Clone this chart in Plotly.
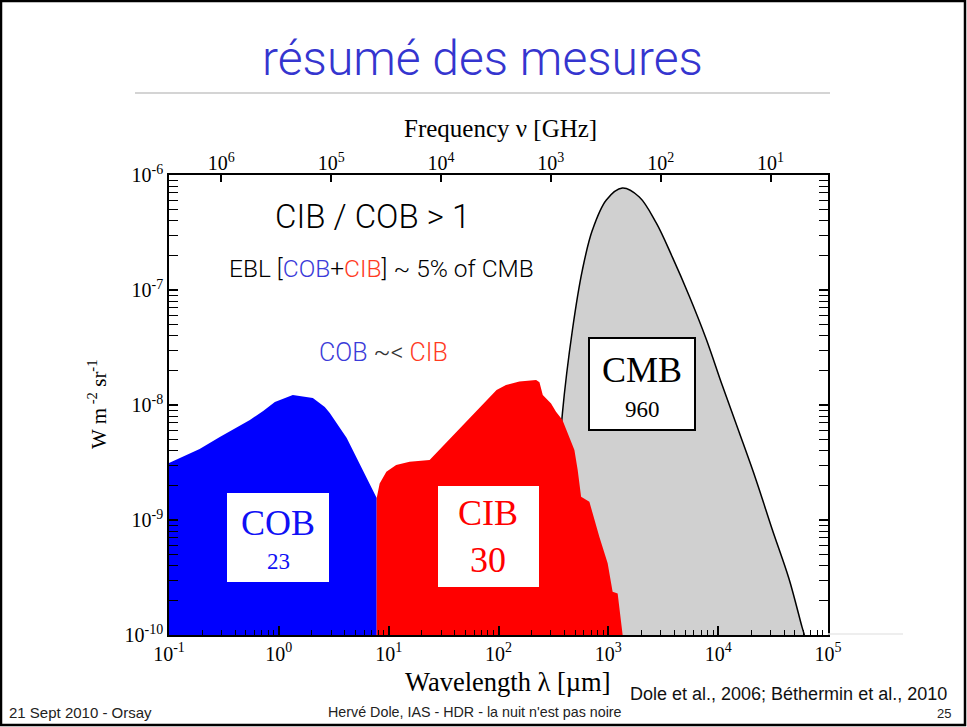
import math
import plotly.graph_objects as go

# ---- data: extragalactic background and CMB, nu*I_nu [W m^-2 sr^-1] vs wavelength [um]
cob_wavelength_um = [0.1, 0.19, 0.29, 0.545, 0.72, 0.92, 1.34, 2.04, 2.62, 2.91, 4.15, 7.78]
cob_intensity = [3.13e-9, 4.14e-9, 5.27e-9, 7.41e-9, 8.87e-9, 1.06e-8, 1.22e-8, 1.15e-8,
                 9.6e-9, 8.5e-9, 5.17e-9, 1.55e-9]

cib_wavelength_um = [7.78, 8.28, 9.53, 11.7, 15.5, 23.6, 96, 117, 155, 220, 236, 253, 301,
                     334, 382, 442, 491, 526, 565, 672, 720, 828, 986, 1094, 1216, 1350]
cib_intensity = [1.55e-9, 2.08e-9, 2.63e-9, 3.01e-9, 3.21e-9, 3.32e-9, 1.35e-8, 1.49e-8,
                 1.6e-8, 1.65e-8, 1.58e-8, 1.22e-8, 1.03e-8, 8.75e-9, 7.41e-9, 5.3e-9,
                 4.06e-9, 2.72e-9, 1.59e-9, 1.44e-9, 1.14e-9, 7.16e-10, 4.2e-10, 2.38e-10,
                 2.3e-10, 1.0e-10]

cmb_wavelength_um = [280, 382, 471, 580, 716, 959, 1340, 1914, 2730, 3820, 5450, 7780,
                     10870, 15500, 22130, 30970, 44200, 58050, 61000]
cmb_intensity = [1e-10, 8.5e-9, 4.49e-8, 1.49e-7, 3.32e-7, 6.07e-7, 7.7e-7, 6.44e-7,
                 3.83e-7, 1.94e-7, 8.87e-8, 3.75e-8, 1.49e-8, 5.82e-9, 2.23e-9, 8.35e-10,
                 3.07e-10, 1.17e-10, 1.0e-10]

# integrated brightness of each component [nW m^-2 sr^-1]
labels = ["COB", "CIB", "CMB"]
totals = [23, 30, 960]

wavelength_ticks = [0.1, 1, 10, 100, 1e3, 1e4, 1e5]
wavelength_ticktext = ["10<sup>-1</sup>", "10<sup>0</sup>", "10<sup>1</sup>", "10<sup>2</sup>",
                       "10<sup>3</sup>", "10<sup>4</sup>", "10<sup>5</sup>"]
frequency_ticks_ghz = [1e6, 1e5, 1e4, 1e3, 1e2, 1e1]
frequency_ticktext = ["10<sup>6</sup>", "10<sup>5</sup>", "10<sup>4</sup>", "10<sup>3</sup>",
                      "10<sup>2</sup>", "10<sup>1</sup>"]
intensity_ticks = [1e-10, 1e-9, 1e-8, 1e-7, 1e-6]
intensity_ticktext = ["10<sup>-10</sup>", "10<sup>-9</sup>", "10<sup>-8</sup>",
                      "10<sup>-7</sup>", "10<sup>-6</sup>"]

FLOOR = 1e-10          # bottom of the intensity axis; filled areas close on it
C_UM_GHZ = 2.998e5     # lambda[um] * nu[GHz]


def minor_ticks(first_exp, last_exp):
    return [k * 10.0 ** e for e in range(first_exp, last_exp) for k in range(2, 10)]


# ---- page geometry
W, H = 967, 727
L, R, T, B = 169, 828, 175, 635


def paper(x, y):
    return (x - L) / (R - L), (B - y) / (B - T)


SERIF = "Liberation Serif"
SANS = "Liberation Sans"
LIGHT = "Roboto"


def closed(xs, ys):
    return list(xs) + [xs[-1], xs[0]], list(ys) + [FLOOR, FLOOR]


fig = go.Figure()

fig.add_trace(go.Scatter(x=cmb_wavelength_um, y=cmb_intensity, mode="lines",
                         line=dict(color="black", width=1.5, shape="spline", smoothing=1.0),
                         fill="toself", fillcolor="#d0d0d0", hoverinfo="skip"))

bx, by = closed(cob_wavelength_um, cob_intensity)
fig.add_trace(go.Scatter(x=bx, y=by, mode="lines", line=dict(width=0, color="#0000ff"),
                         fill="toself", fillcolor="#0000ff", hoverinfo="skip"))

rx, ry = closed(cib_wavelength_um, cib_intensity)
fig.add_trace(go.Scatter(x=rx, y=ry, mode="lines", line=dict(width=0, color="#ff0000"),
                         fill="toself", fillcolor="#ff0000", hoverinfo="skip"))

# frequency axis on top
fig.add_trace(go.Scatter(x=frequency_ticks_ghz, y=[None] * len(frequency_ticks_ghz),
                         xaxis="x2", mode="lines", hoverinfo="skip"))

tickfont = dict(family=SERIF, size=20, color="black")
fig.update_layout(
    width=W, height=H, showlegend=False,
    margin=dict(l=L, r=W - R, t=T, b=H - B),
    paper_bgcolor="white", plot_bgcolor="white",
    xaxis=dict(type="log", range=[-1, 5], tickmode="array", tickvals=wavelength_ticks,
               ticktext=wavelength_ticktext, ticks="inside", ticklen=9, tickwidth=1.8,
               tickcolor="black", showline=True, linecolor="black", linewidth=1.5,
               mirror=True, showgrid=False, zeroline=False, tickfont=tickfont,
               minor=dict(ticks="inside", ticklen=5, tickwidth=1.4, tickcolor="black",
                          tickmode="array", tickvals=minor_ticks(-1, 5), showgrid=False)),
    xaxis2=dict(type="log", overlaying="x", side="top", anchor="y",
                range=[math.log10(C_UM_GHZ / 0.1), math.log10(C_UM_GHZ / 1e5)],
                tickmode="array", tickvals=frequency_ticks_ghz, ticktext=frequency_ticktext,
                ticks="inside", ticklen=7, tickwidth=1.5, tickcolor="black",
                showline=False, showgrid=False, zeroline=False, tickfont=tickfont),
    yaxis=dict(type="log", range=[-10, -6], tickmode="array", tickvals=intensity_ticks,
               ticktext=intensity_ticktext, ticks="inside", ticklen=9, tickwidth=1.8,
               tickcolor="black", showline=True, linecolor="black", linewidth=1.5,
               mirror="allticks", showgrid=False, zeroline=False, tickfont=tickfont,
               minor=dict(ticks="inside", ticklen=5, tickwidth=1.4, tickcolor="black",
                          tickmode="array", tickvals=minor_ticks(-10, -6), showgrid=False)),
)

shapes = []
annotations = []


def text(x, y, s, size, color="black", family=SANS, xanchor="center", angle=0, weight=None):
    px_, py_ = paper(x, y)
    font = dict(family=family, size=size, color=color)
    if weight:
        font["weight"] = weight
    annotations.append(dict(x=px_, y=py_, xref="paper", yref="paper", text=s,
                            showarrow=False, xanchor=xanchor, yanchor="middle",
                            textangle=angle, font=font))


def rect(x0, y0, x1, y1, line_color=None, width=0):
    a0, b0 = paper(x0, y0)
    a1, b1 = paper(x1, y1)
    shapes.append(dict(type="rect", xref="paper", yref="paper", x0=a0, y0=b0, x1=a1, y1=b1,
                       fillcolor="white", layer="above",
                       line=dict(color=line_color or "white", width=width)))


def hline(x0, x1, y, color, width):
    a0, b = paper(x0, y)
    a1, _ = paper(x1, y)
    shapes.append(dict(type="line", xref="paper", yref="paper", x0=a0, x1=a1, y0=b, y1=b,
                       line=dict(color=color, width=width)))


# slide frame, title and rule
f0 = paper(1, 1)
f1 = paper(965, 725)
shapes.append(dict(type="rect", xref="paper", yref="paper", x0=f0[0], y0=f0[1], x1=f1[0],
                   y1=f1[1], line=dict(color="black", width=2.5), layer="below"))
text(482, 58, "résumé des mesures", 48, color="#3535cf", family=LIGHT, weight=300)
hline(135, 830, 93, "#d4d4d4", 2)
hline(828, 903, 634, "#e8e8e8", 1.5)

# component labels
rect(227, 493, 329, 582)
text(278, 523, labels[0], 36, color="#1010f5", family=SERIF)
text(278, 561, str(totals[0]), 23, color="#1010f5", family=SERIF)
rect(438, 486, 539, 587)
text(488, 513, labels[1], 36, color="#ff0000", family=SERIF)
text(488, 560, str(totals[1]), 36, color="#ff0000", family=SERIF)
rect(589, 338, 695, 430, line_color="black", width=2)
text(642, 370, labels[2], 36, color="black", family=SERIF)
text(642, 409, str(totals[2]), 23, color="black", family=SERIF)

BLUE_T = "#3b3bd9"
RED_T = "#ff3b1f"
text(372, 216, "CIB / COB &gt; 1", 33, family=LIGHT, weight=300)
text(381, 268, "EBL [<span style='color:%s'>COB</span>+<span style='color:%s'>CIB</span>] ~ 5%% of CMB"
     % (BLUE_T, RED_T), 24.5, family=LIGHT, weight=300)
text(383, 352, "<span style='color:%s'>COB</span> ~&lt; <span style='color:%s'>CIB</span>"
     % (BLUE_T, RED_T), 25, color="#333333", family=LIGHT, weight=300)

# axis titles
text(500, 129, "Frequency ν [GHz]", 25, family=SERIF)
text(508, 682, "Wavelength λ [µm]", 26.5, family=SERIF)
text(97, 404, "W m<sup> -2</sup> sr<sup>-1</sup>", 21, family=SERIF, angle=-90)

# footer
text(7, 712, "21 Sept 2010 - Orsay", 15, color="#222222", xanchor="left")
text(475, 712, "Hervé Dole, IAS - HDR - la nuit n'est pas noire", 14.3, color="#222222")
text(788, 694, "Dole et al., 2006; Béthermin et al., 2010", 18, color="#111111")
text(953, 713, "25", 13, color="#222222", xanchor="right")

fig.update_layout(shapes=shapes, annotations=annotations)
fig.write_html("out.html")
